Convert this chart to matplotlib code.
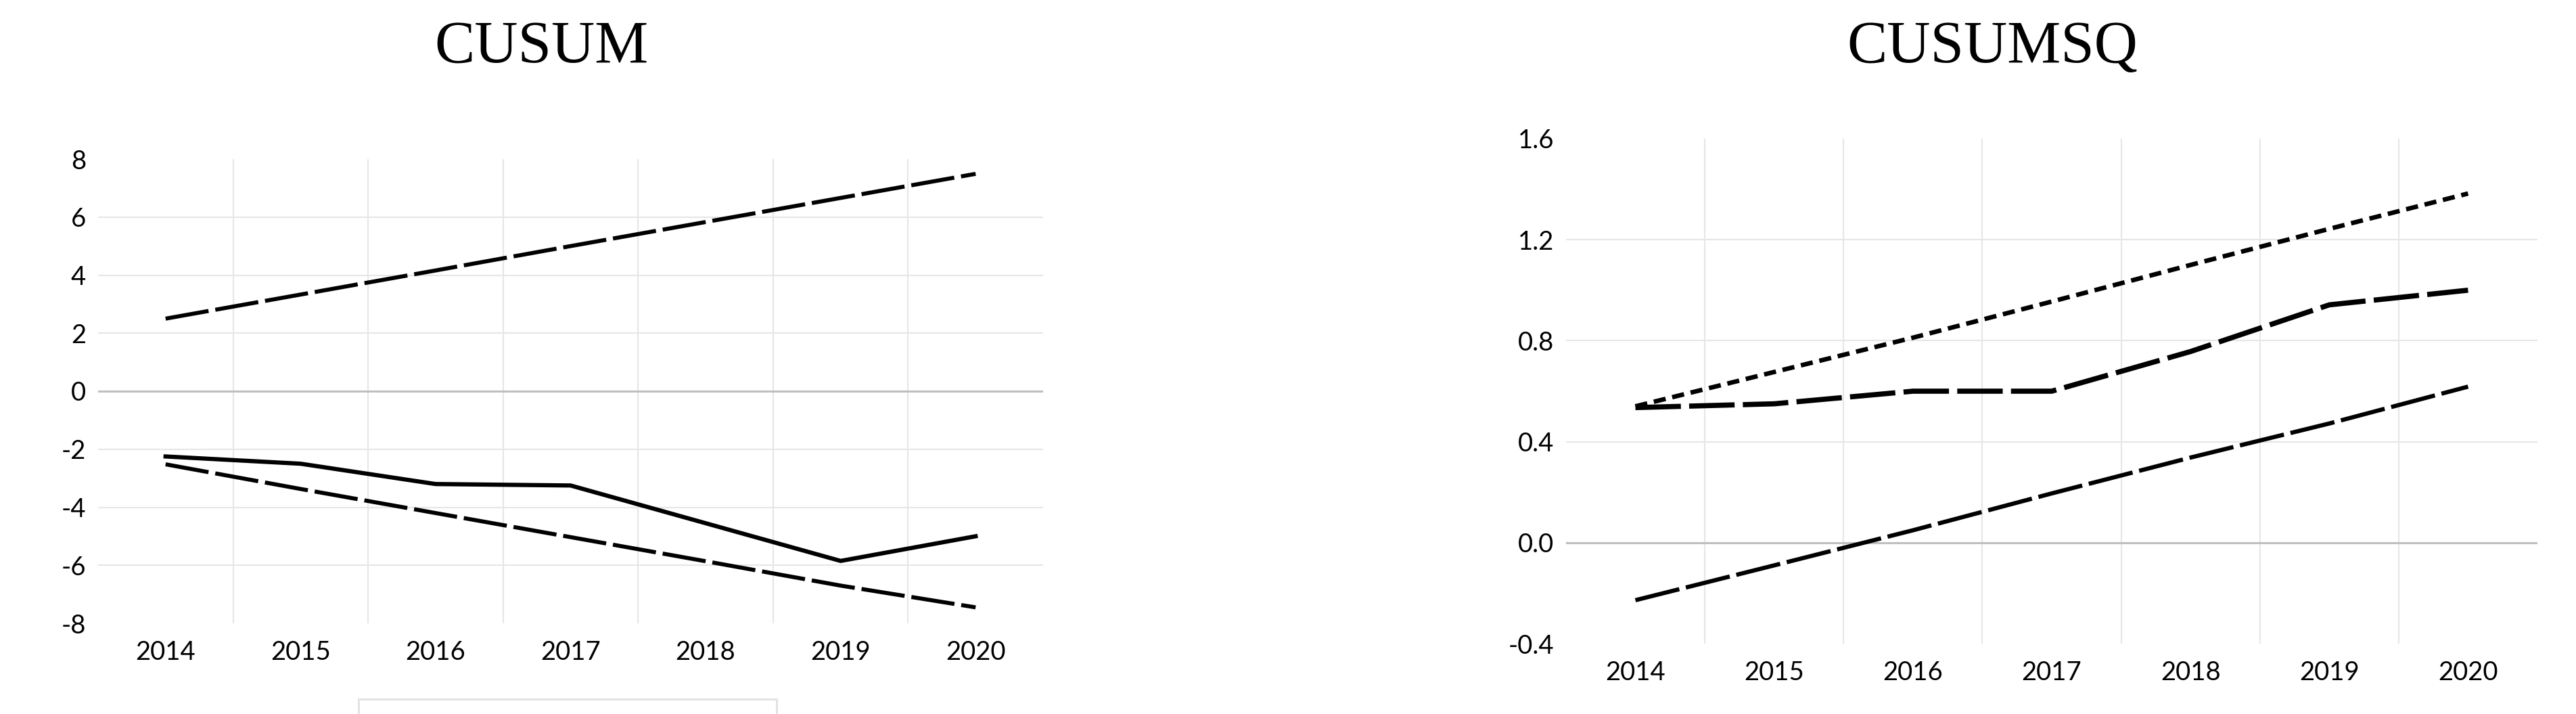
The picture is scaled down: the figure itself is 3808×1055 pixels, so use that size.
import matplotlib
matplotlib.use("Agg")
import matplotlib.pyplot as plt
from matplotlib.patches import Rectangle

# --- Data ---
YEARS = ["2014", "2015", "2016", "2017", "2018", "2019", "2020"]

CUSUM        = [-2.25, -2.50, -3.20, -3.25, -4.55, -5.85, -5.00]
CUSUM_UPPER  = [2.50, 3.33, 4.16, 5.00, 5.83, 6.66, 7.49]
CUSUM_LOWER  = [-2.52, -3.37, -4.20, -5.03, -5.86, -6.70, -7.45]
CUSUM_TICKS  = [-8, -6, -4, -2, 0, 2, 4, 6, 8]
CUSUM_LABELS = ["-8", "-6", "-4", "-2", "0", "2", "4", "6", "8"]

CUSUMSQ       = [0.535, 0.550, 0.600, 0.600, 0.757, 0.942, 1.000]
CUSUMSQ_UPPER = [0.540, 0.676, 0.812, 0.955, 1.100, 1.243, 1.383]
CUSUMSQ_LOWER = [-0.228, -0.090, 0.049, 0.195, 0.337, 0.472, 0.618]
CUSUMSQ_TICKS  = [-0.4, 0.0, 0.4, 0.8, 1.2, 1.6]
CUSUMSQ_LABELS = ["-0.4", "0.0", "0.4", "0.8", "1.2", "1.6"]

# --- Style ---
W, H, DPI = 3808, 1055, 100
GRID_COLOR = "#e6e6e6"
ZERO_COLOR = "#bfbfbf"
TICK_FONT  = "Lato"
TITLE_FONT = "Liberation Serif"


def px_box(x0, y0, x1, y1):
    # pixel box (top-left origin) -> figure fraction [l, b, w, h]
    return [x0 / W, 1 - y1 / H, (x1 - x0) / W, (y1 - y0) / H]


def style_axes(ax, ticks, labels):
    n = len(YEARS)
    ax.set_xlim(-0.5, n - 0.5)
    ax.set_ylim(ticks[0], ticks[-1])
    ax.set_xticks(range(n))
    ax.set_xticklabels(YEARS)
    ax.set_yticks(ticks)
    ax.set_yticklabels(labels)
    for side in ax.spines.values():
        side.set_visible(False)
    ax.tick_params(length=0, labelsize=27.5, labelcolor="black")
    ax.tick_params(axis="x", pad=18)
    ax.tick_params(axis="y", pad=13)
    for lab in ax.get_xticklabels() + ax.get_yticklabels():
        lab.set_fontfamily(TICK_FONT)

    # horizontal grid, without the outer limits
    for t in ticks[1:-1]:
        if t == 0:
            ax.axhline(t, color=ZERO_COLOR, lw=2.2, zorder=1)
        else:
            ax.axhline(t, color=GRID_COLOR, lw=1.5, zorder=0)
    # vertical separators between categories
    for b in range(n - 1):
        ax.axvline(b + 0.5, color=GRID_COLOR, lw=1.5, zorder=0)


fig = plt.figure(figsize=(W / DPI, H / DPI), dpi=DPI)
x = range(len(YEARS))

# CUSUM
ax1 = fig.add_axes(px_box(145, 235, 1542, 921))
style_axes(ax1, CUSUM_TICKS, CUSUM_LABELS)
ax1.plot(x, CUSUM_UPPER, color="black", lw=4.3, dashes=(10.8, 1.7), dash_capstyle="butt")
ax1.plot(x, CUSUM_LOWER, color="black", lw=4.3, dashes=(10.8, 1.7), dash_capstyle="butt")
ax1.plot(x, CUSUM, color="black", lw=4.5, solid_joinstyle="round")

# CUSUMSQ
ax2 = fig.add_axes(px_box(2315, 205, 3751, 951))
style_axes(ax2, CUSUMSQ_TICKS, CUSUMSQ_LABELS)
ax2.plot(x, CUSUMSQ_UPPER, color="black", lw=4.8, dashes=(2.7, 1.5), dash_capstyle="butt")
ax2.plot(x, CUSUMSQ_LOWER, color="black", lw=4.5, dashes=(10.7, 1.6), dash_capstyle="butt")
ax2.plot(x, CUSUMSQ, color="black", lw=5.5, dashes=(8.8, 1.6), dash_capstyle="butt")

# titles
fig.text(801 / W, 1 - 92 / H, "CUSUM", family=TITLE_FONT, fontsize=64,
         ha="center", va="baseline")
fig.text(2945 / W, 1 - 92 / H, "CUSUMSQ", family=TITLE_FONT, fontsize=64,
         ha="center", va="baseline")

# empty legend frame cut off at the bottom edge
fig.patches.append(Rectangle((530 / W, -0.05), (1148 - 530) / W, 0.05 + (H - 1033) / H,
                             transform=fig.transFigure, fill=False,
                             edgecolor="#e3e3e3", lw=2.2))

fig.savefig("out.png", dpi=DPI, facecolor="white")
plt.close(fig)
